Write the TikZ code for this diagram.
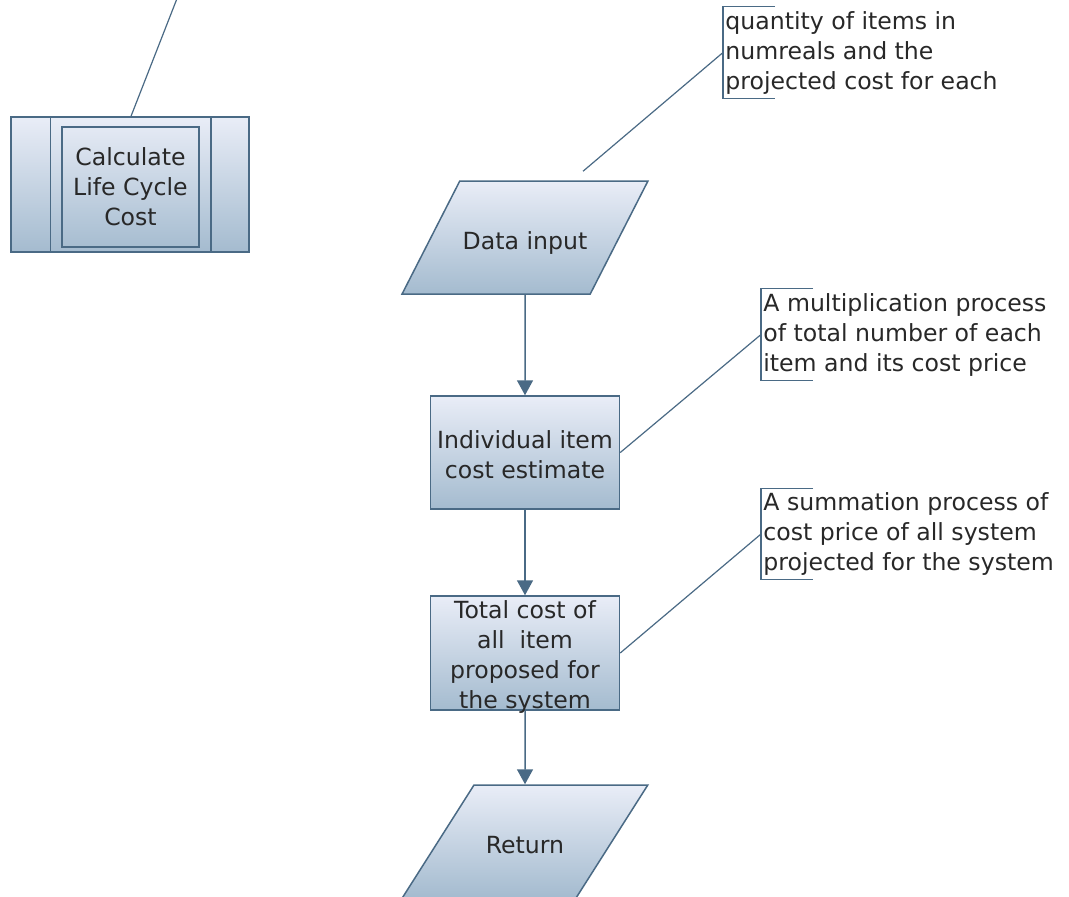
\documentclass[tikz,border=0pt]{standalone}
\usepackage{fontspec}
\setmainfont{DejaVu Sans}
\usetikzlibrary{arrows.meta,shapes.geometric}
\definecolor{edgeblue}{RGB}{74,106,133}
\definecolor{filltop}{RGB}{233,237,247}
\definecolor{fillbot}{RGB}{164,187,207}
\definecolor{inktext}{RGB}{40,40,40}
\tikzset{every node/.style={font=\fontsize{11.8}{15}\selectfont, text=inktext}}
\tikzset{procbox/.style={shape=rectangle, draw=edgeblue, line width=.75pt,
    top color=filltop, bottom color=fillbot, align=center, inner sep=0pt}}
\tikzset{iobox/.style={procbox, trapezium, trapezium left angle=64,
    trapezium right angle=116, trapezium stretches=true,
    text height=12pt, text depth=0pt, inner ysep=22.25pt, minimum width=123pt}}
\tikzset{notetext/.style={align=left, anchor=west, inner xsep=1pt, inner ysep=2pt}}
\tikzset{noteline/.style={draw=edgeblue, line width=.6pt}}

\begin{document}
\begin{tikzpicture}[>={Triangle[width=8pt,length=7.5pt]}, x=.5pt, y=-.5pt]
    \tikzstyle{flow}=[draw=edgeblue, line width=.75pt, ->]
    \path[use as bounding box, fill=white] (0,0) rectangle (1069,896);
    % subroutine box
    \node[procbox, minimum width=119pt, minimum height=67.5pt] (calc) at (130,184.5) {};
    \node[draw=edgeblue, line width=.75pt, minimum width=68.5pt,
      minimum height=60pt, align=center] (calcin) at (130.5,187) {Calculate\\Life Cycle\\Cost};
    \draw[edgeblue, line width=.75pt] ([xshift=20pt]calc.north west) -- ([xshift=20pt]calc.south west);
    \draw[edgeblue, line width=.75pt] ([xshift=-19.5pt]calc.north east) -- ([xshift=-19.5pt]calc.south east);
    \coordinate (calctop) at (178,-4);
    \draw[noteline] ([xshift=.5pt]calc.north) -- (calctop);
    % main flow
    \node[iobox] (din) at (525,237.5) {Data input};
    \node[procbox, minimum width=94.5pt, minimum height=56.5pt] (ind) at (525,452.5) {};
    \node[align=center] (indtxt) at (525,455) {Individual item\\cost estimate};
    \node[procbox, minimum width=94.5pt, minimum height=57pt] (total) at (525,653) {};
    \node[align=center] (totaltxt) at (525,656.5) {Total cost of\\all\ \ item\\proposed for\\the system};
    \node[iobox] (ret) at (525,841.5) {Return};
    \path (din) edge[flow] (ind);
    \path (ind) edge[flow] (total);
    \path (total) edge[flow] (ret);
    % notes
    \node[notetext] (note1) at (723,52.5) {quantity of items in\\numreals and the\\projected cost for each};
    \node[notetext] (note2) at (761,334.5) {A multiplication process\\of total number of each\\item and its cost price};
    \node[notetext] (note3) at (761,534) {A summation process of\\cost price of all system\\projected for the system};
    \foreach \n in {note1,note2,note3}
      \draw[noteline] ([xshift=26pt]\n.north west) -- (\n.north west)
        -- (\n.south west) -- ([xshift=26pt]\n.south west);
    \draw[noteline] ([shift={(58,-9)}]din.north) -- (note1.west);
    \draw[noteline] (ind.east) -- (note2.west);
    \draw[noteline] (total.east) -- (note3.west);
\end{tikzpicture}
\end{document}
